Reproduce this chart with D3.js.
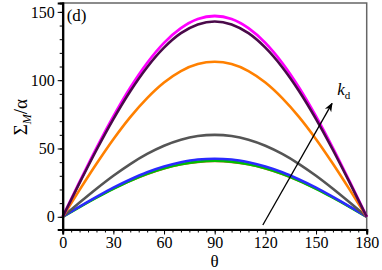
<!DOCTYPE html>
<html>
<head>
<meta charset="utf-8">
<script src="https://cdn.jsdelivr.net/npm/d3@7"></script>
<style>
  body { margin: 0; background: #fff; }
  svg text { font-family: "Liberation Serif", "DejaVu Serif", serif; }
</style>
</head>
<body>
<div id="chart"></div>
<script>
// theta values and the curves
var theta = [0, 10, 20, 30, 40, 50, 60, 70, 80, 90, 100, 110, 120, 130, 140, 150, 160, 170, 180];

var sMagenta = [0, 25.5, 50.3, 73.5, 94.5, 112.6, 127.3, 138.1, 144.8, 147, 144.8, 138.1, 127.3, 112.6, 94.5, 73.5, 50.3, 25.5, 0];
var sPurple  = [0, 24.8, 48.9, 71.5, 91.9, 109.5, 123.8, 134.4, 140.8, 143, 140.8, 134.4, 123.8, 109.5, 91.9, 71.5, 48.9, 24.8, 0];
var sOrange  = [0, 19.7, 38.8, 56.8, 73, 86.9, 98.3, 106.7, 111.8, 113.5, 111.8, 106.7, 98.3, 86.9, 73, 56.8, 38.8, 19.7, 0];
var sGray    = [0, 10.4, 20.5, 30, 38.6, 46, 52, 56.4, 59.1, 60, 59.1, 56.4, 52, 46, 38.6, 30, 20.5, 10.4, 0];
var sBrown   = [0, 7.0, 13.8, 20.2, 26, 31, 35, 38, 39.8, 40.4, 39.8, 38, 35, 31, 26, 20.2, 13.8, 7.0, 0];
var sGreen   = [0, 7.1, 14, 20.5, 26.4, 31.4, 35.5, 38.5, 40.4, 41, 40.4, 38.5, 35.5, 31.4, 26.4, 20.5, 14, 7.1, 0];
var sBlue    = [0, 7.4, 14.5, 21.3, 27.3, 32.6, 36.8, 39.9, 41.9, 42.5, 41.9, 39.9, 36.8, 32.6, 27.3, 21.3, 14.5, 7.4, 0];

var xTicks = [0, 30, 60, 90, 120, 150, 180];
var yTicks = [0, 50, 100, 150];

var arrowFrom = [118.5, -6];
var arrowTo = [159.5, 83];

var series = [
  {v: sBrown,   c: "#c8641e", w: 1.5},
  {v: sGreen,   c: "#00c000", w: 2.6},
  {v: sBlue,    c: "#2a2aff", w: 2.6},
  {v: sGray,    c: "#555555", w: 2.6},
  {v: sOrange,  c: "#ff8000", w: 2.6},
  {v: sMagenta, c: "#ff00ff", w: 2.8},
  {v: sPurple,  c: "#4a0a4a", w: 2.6}
];

var W = 382, H = 270;
var m = {left: 62.7, right: 15.3, top: 3, bottom: 40.5};
var iw = W - m.left - m.right, ih = H - m.top - m.bottom;
var serif = "'Liberation Serif', 'DejaVu Serif', serif";

var svg = d3.select("#chart").append("svg")
  .attr("width", W).attr("height", H);

var x = d3.scaleLinear().domain([0, 180]).range([0, iw]);
var y = d3.scaleLinear().domain([-9.3, 156.5]).range([ih, 0]);

var g = svg.append("g").attr("transform", "translate(" + m.left + "," + m.top + ")");

// frame top / right
g.append("rect").attr("x", 0).attr("y", 0).attr("width", iw).attr("height", ih)
  .attr("fill", "none").attr("stroke", "#666").attr("stroke-width", 1.5);

var line = d3.line()
  .x(function(d, i) { return x(theta[i]); })
  .y(function(d) { return y(d); })
  .curve(d3.curveMonotoneX);

series.forEach(function(s) {
  g.append("path").datum(s.v)
    .attr("fill", "none")
    .attr("stroke", s.c)
    .attr("stroke-width", s.w)
    .attr("d", line);
});

// minor ticks
var xMinor = d3.range(0, 181, 5);
var yMinor = d3.range(-0, 151, 10);

var xAxis = g.append("g").attr("transform", "translate(0," + ih + ")");
xAxis.call(d3.axisBottom(x).tickValues(xMinor).tickSize(3).tickFormat(""));
xAxis.append("g").call(d3.axisBottom(x).tickValues(xTicks).tickSize(5).tickPadding(2).tickFormat(d3.format("d")));

var yAxis = g.append("g");
yAxis.call(d3.axisLeft(y).tickValues(yMinor).tickSize(3).tickFormat(""));
yAxis.append("g").call(d3.axisLeft(y).tickValues(yTicks).tickSize(5).tickPadding(3).tickFormat(d3.format("d")));

g.selectAll("g").attr("font-family", serif);
g.selectAll(".domain").attr("stroke", "#000").attr("stroke-width", 2);
g.selectAll(".tick line").attr("stroke", "#000").attr("stroke-width", 1);
g.selectAll(".tick text").attr("font-size", 16).attr("fill", "#000")
  .attr("font-family", serif);

// axis titles
svg.append("text")
  .attr("x", m.left + x(90)).attr("y", 267)
  .attr("text-anchor", "middle").attr("font-size", 17)
  .attr("font-family", serif)
  .text("θ");

var yl = svg.append("text")
  .attr("transform", "translate(27," + (m.top + y(73)) + ") rotate(-90)")
  .attr("text-anchor", "middle").attr("font-size", 19)
  .attr("font-family", serif);
yl.append("tspan").text("Σ");
yl.append("tspan").attr("font-size", 12).attr("font-style", "italic").attr("dy", 4).text("M");
yl.append("tspan").attr("dy", -4).text("/α");

// panel label
g.append("text").attr("x", 4).attr("y", 18).attr("font-size", 17)
  .attr("font-family", serif).text("(d)");

// arrow
svg.append("defs").append("marker")
  .attr("id", "ah").attr("viewBox", "0 0 10 10")
  .attr("refX", 9).attr("refY", 5)
  .attr("markerWidth", 7).attr("markerHeight", 7)
  .attr("orient", "auto")
  .append("path").attr("d", "M0,1 L10,5 L0,9 L3,5 Z").attr("fill", "#000");

g.append("line")
  .attr("x1", x(arrowFrom[0])).attr("y1", y(arrowFrom[1]))
  .attr("x2", x(arrowTo[0])).attr("y2", y(arrowTo[1]))
  .attr("stroke", "#000").attr("stroke-width", 1.3)
  .attr("marker-end", "url(#ah)");

var kd = g.append("text")
  .attr("x", x(162.5)).attr("y", y(89))
  .attr("font-size", 17).attr("font-family", serif);
kd.append("tspan").attr("font-style", "italic").text("k");
kd.append("tspan").attr("font-size", 11).attr("dy", 4).text("d");
</script>
</body>
</html>
